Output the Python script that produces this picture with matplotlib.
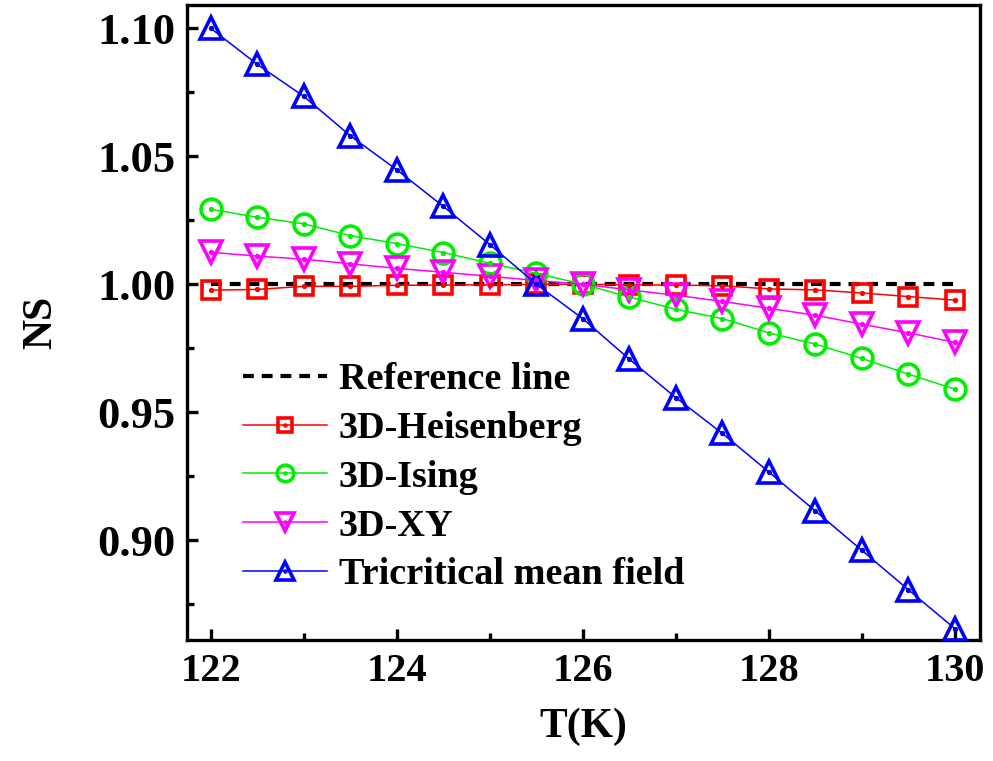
import matplotlib
matplotlib.use("Agg")
import matplotlib.pyplot as plt
from matplotlib.ticker import MultipleLocator, FormatStrFormatter
from matplotlib.legend_handler import HandlerTuple

T = [122.0, 122.5, 123.0, 123.5, 124.0, 124.5, 125.0, 125.5, 126.0,
     126.5, 127.0, 127.5, 128.0, 128.5, 129.0, 129.5, 130.0]
heisenberg = [0.9977, 0.9980, 0.9992, 0.9992, 0.9996, 0.9997, 0.9998, 1.0000, 1.0000,
              0.9998, 0.9997, 0.9994, 0.9982, 0.9978, 0.9966, 0.9952, 0.9938]
ising = [1.0293, 1.0262, 1.0236, 1.0190, 1.0159, 1.0124, 1.0082, 1.0043, 1.0000,
         0.9950, 0.9902, 0.9866, 0.9810, 0.9766, 0.9710, 0.9649, 0.9590]
xy = [1.0125, 1.0110, 1.0098, 1.0080, 1.0062, 1.0047, 1.0031, 1.0015, 1.0000,
      0.9978, 0.9957, 0.9933, 0.9906, 0.9879, 0.9844, 0.9810, 0.9773]
tricritical = [1.1000, 1.0859, 1.0734, 1.0580, 1.0447, 1.0304, 1.0155, 1.0000, 0.9865,
               0.9707, 0.9557, 0.9417, 0.9266, 0.9114, 0.8960, 0.8806, 0.8654]
ref_x = [122.0, 130.0]
ref_y = [1.0, 1.0]
labels = ["Reference line", "3D-Heisenberg", "3D-Ising", "3D-XY", "Tricritical mean field"]

plt.rcParams['font.family'] = ['Liberation Serif', 'DejaVu Serif']
plt.rcParams['font.weight'] = 'bold'

fig = plt.figure(figsize=(9.93, 7.61), dpi=100)
ax = fig.add_axes([0.188, 0.159, 0.799, 0.834])

ref, = ax.plot(ref_x, ref_y, color='black', lw=3.0, ls=(0, (2.6, 1.9)), zorder=2)

series = [(heisenberg, 'red', 's', 13), (ising, '#00ee00', 'o', 15),
          (xy, 'magenta', 'v', 16), (tricritical, 'blue', '^', 16)]
handles = [ref]
for vals, col, mk, ms in series:
    ln, = ax.plot(T, vals, color=col, lw=1.1, marker=mk, ms=ms, mfc='none',
                  mec=col, mew=2.6, zorder=3)
    dot, = ax.plot(T, vals, ls='none', marker='o', ms=2.8, color=col, mec=col, zorder=4)
    handles.append((ln, dot))

ax.set_xlim(121.74, 130.27)
ax.set_ylim(0.861, 1.109)
ax.xaxis.set_major_locator(MultipleLocator(2))
ax.xaxis.set_minor_locator(MultipleLocator(1))
ax.yaxis.set_major_locator(MultipleLocator(0.05))
ax.yaxis.set_minor_locator(MultipleLocator(0.025))
ax.yaxis.set_major_formatter(FormatStrFormatter('%.2f'))

for s in ax.spines.values():
    s.set_linewidth(2.4)
ax.tick_params(which='both', direction='in', width=2.4, top=False, right=False)
ax.tick_params(which='major', length=8)
ax.tick_params(which='minor', length=5)
ax.tick_params(axis='x', labelsize=29, pad=9)
ax.tick_params(axis='y', labelsize=32, pad=8)
for lab in ax.get_xticklabels() + ax.get_yticklabels():
    lab.set_fontweight('bold')

ax.set_xlabel('T(K)', fontsize=30, fontweight='bold', labelpad=13)
ax.set_ylabel('NS', fontsize=30, fontweight='bold', labelpad=27)

leg = ax.legend(handles, labels, loc='lower left', bbox_to_anchor=(0.047, 0.045),
                frameon=False, handlelength=2.2, handletextpad=0.3,
                labelspacing=0.36, borderpad=0, numpoints=1, markerscale=0.8,
                handler_map={tuple: HandlerTuple(ndivide=1, pad=0)},
                prop={'weight': 'bold', 'size': 27.5})

fig.savefig('out.png', dpi=100)
